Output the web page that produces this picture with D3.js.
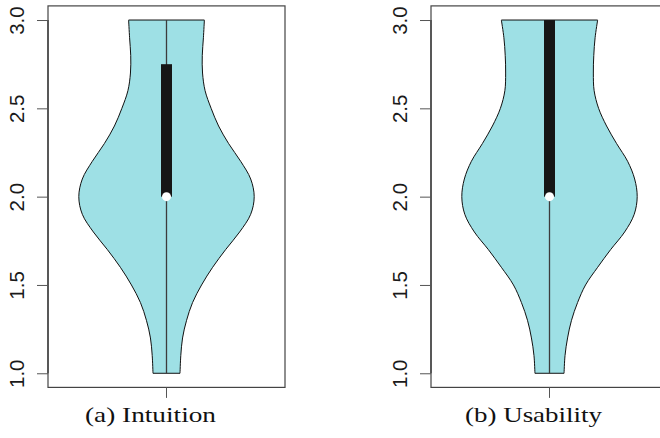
<!DOCTYPE html>
<html>
<head>
<meta charset="utf-8">
<script src="https://cdn.jsdelivr.net/npm/d3@7"></script>
<style>
  html, body { margin: 0; padding: 0; background: #fff; }
  svg { display: block; }
</style>
</head>
<body>
<svg id="chart" width="660" height="438"></svg>
<script>
// ---- data ----
const yTicks = [1.0, 1.5, 2.0, 2.5, 3.0];
const gridLevels = [1.0, 1.1, 1.2, 1.3, 1.4, 1.5, 1.6, 1.7, 1.8, 1.9, 2.0,
                    2.1, 2.2, 2.3, 2.4, 2.5, 2.6, 2.7, 2.8, 2.9, 3.0];
// relative kernel density (max = 1)
const densityIntuition = [0.154, 0.163, 0.183, 0.229, 0.297, 0.400, 0.526, 0.674, 0.834, 0.960, 1.000,
                          0.960, 0.846, 0.709, 0.594, 0.509, 0.440, 0.411, 0.408, 0.421, 0.432];
const densityUsability = [0.166, 0.177, 0.206, 0.251, 0.320, 0.411, 0.549, 0.697, 0.857, 0.966, 1.000,
                          0.971, 0.891, 0.766, 0.651, 0.560, 0.509, 0.500, 0.505, 0.520, 0.549];
const captions = ["(a) Intuition", "(b) Usability"];
const minVals = [1.0, 1.0];
const q1Vals = [2.0, 2.0];
const medianVals = [2.0, 2.0];
const q3Vals = [2.75, 3.0];
const maxVals = [3.0, 3.0];

// ---- layout ----
const svg = d3.select("#chart");
const panels = [
  { left: 48, right: 285, density: densityIntuition, capW: 131 },
  { left: 431, right: 668, density: densityUsability, capW: 137 }
];
const y = d3.scaleLinear().domain([0.92, 3.08]).range([387.4, 5.9]);
const fill = "#9EE0E5";

panels.forEach((p, i) => {
  const g = svg.append("g");
  const x = d3.scaleLinear().domain([0.5, 1.5]).range([p.left, p.right]);
  const w = d3.scaleLinear().domain([0, 1]).range([0, 0.37]);
  const cx = x(1);

  const pts = gridLevels.map((v, k) => ({ v: v, d: p.density[k] }));
  const area = d3.area()
    .y(d => y(d.v))
    .x0(d => x(1 - w(d.d)))
    .x1(d => x(1 + w(d.d)))
    .curve(d3.curveCatmullRom);
  g.append("path").attr("d", area(pts))
    .attr("fill", fill).attr("stroke", "#111").attr("stroke-width", 1);

  // whisker
  g.append("line")
    .attr("x1", cx).attr("x2", cx)
    .attr("y1", y(minVals[i])).attr("y2", y(maxVals[i]))
    .attr("stroke", "#3c3c3c").attr("stroke-width", 1.3);
  // box
  g.append("rect")
    .attr("x", cx - 5.5).attr("width", 11)
    .attr("y", y(q3Vals[i])).attr("height", y(q1Vals[i]) - y(q3Vals[i]))
    .attr("fill", "#161616");
  // median
  g.append("circle").attr("cx", cx).attr("cy", y(medianVals[i])).attr("r", 4.5)
    .attr("fill", "#fff");

  // frame
  g.append("rect")
    .attr("x", p.left).attr("y", y(3.08))
    .attr("width", p.right - p.left).attr("height", y(0.92) - y(3.08))
    .attr("fill", "none").attr("stroke", "#444").attr("stroke-width", 1.2);

  // y axis
  const ax = g.append("g").attr("transform", `translate(${p.left},0)`)
    .call(d3.axisLeft(y).tickValues(yTicks).tickSize(11).tickFormat(d3.format(".1f")));
  ax.select(".domain").attr("d", `M0,${y(1)}V${y(3)}`).attr("stroke", "#222");
  ax.selectAll(".tick line").attr("stroke", "#555");
  ax.selectAll(".tick text")
    .attr("transform", "rotate(-90)")
    .attr("x", 0).attr("y", -24).attr("dy", 0)
    .attr("text-anchor", "middle")
    .attr("fill", "#1a1a1a")
    .style("font-family", "'Liberation Sans', Arial, sans-serif")
    .style("font-size", "20.5px");

  // x tick
  g.append("line").attr("x1", cx).attr("x2", cx)
    .attr("y1", y(0.92)).attr("y2", y(0.92) + 10.5)
    .attr("stroke", "#555").attr("stroke-width", 1);

  // caption
  g.append("text")
    .attr("x", cx - 16).attr("y", 422)
    .attr("text-anchor", "middle")
    .attr("textLength", p.capW).attr("lengthAdjust", "spacingAndGlyphs")
    .attr("fill", "#111")
    .style("font-family", "'Liberation Serif', 'Times New Roman', serif")
    .style("font-size", "22px")
    .text(captions[i]);
});
</script>
</body>
</html>
